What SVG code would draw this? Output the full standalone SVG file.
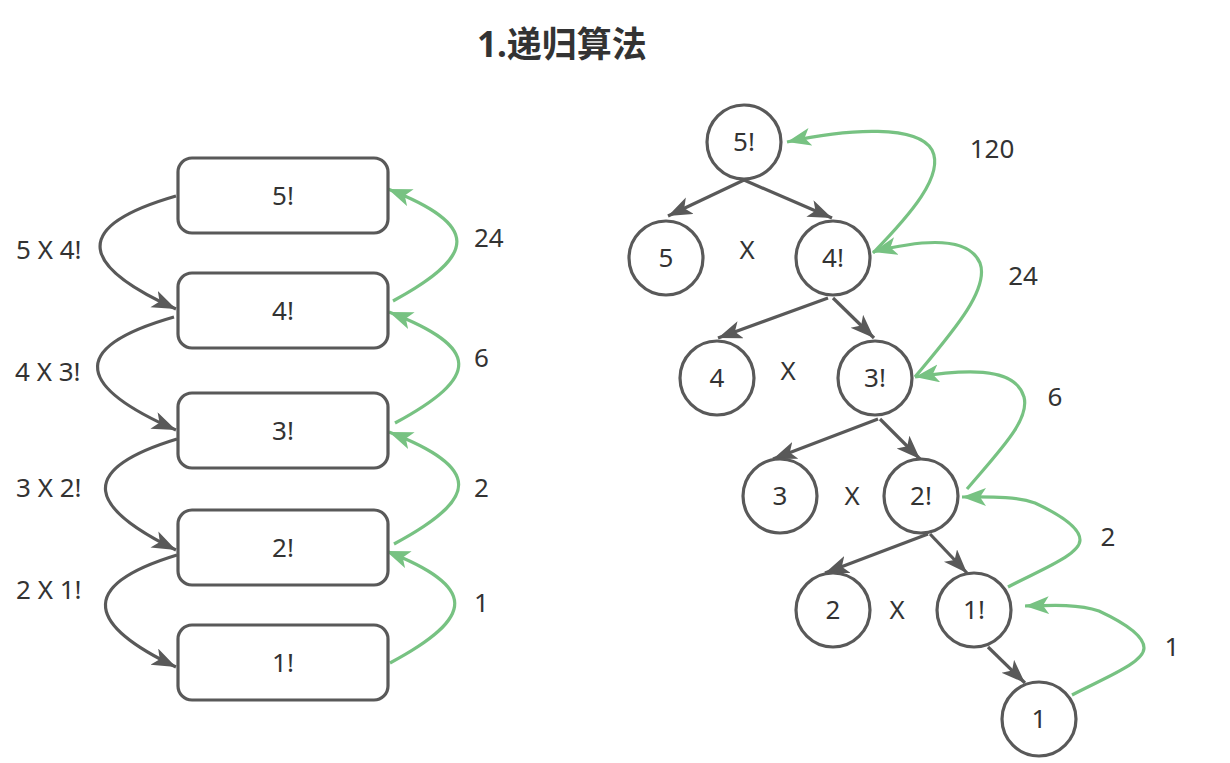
<svg xmlns="http://www.w3.org/2000/svg" width="1230" height="763" viewBox="0 0 1230 763">
<style>
.box{fill:#fff;stroke:#595959;stroke-width:3.2}
.circ{fill:#fff;stroke:#595959;stroke-width:3.2}
.t{font-family:"Noto Sans","Open Sans","Liberation Sans",sans-serif;font-size:26px;fill:#333}
.c{text-anchor:middle}
.title{font-family:"Noto Sans","Noto Sans CJK SC",sans-serif;font-size:35px;font-weight:bold;fill:#333}
.g{fill:none;stroke:#595959;stroke-width:3.2;marker-end:url(#ag)}
.gr{fill:none;stroke:#77c282;stroke-width:3.2;marker-end:url(#agr)}
</style>
<defs>
<marker id="ag" markerUnits="userSpaceOnUse" markerWidth="26" markerHeight="20" refX="24" refY="9" orient="auto" viewBox="0 0 26 20">
<path d="M0,0 L24,9 L0,18 L6,9 Z" fill="#595959"/>
</marker>
<marker id="agr" markerUnits="userSpaceOnUse" markerWidth="26" markerHeight="20" refX="24" refY="9" orient="auto" viewBox="0 0 26 20">
<path d="M0,0 L24,9 L0,18 L6,9 Z" fill="#77c282"/>
</marker>
</defs>
<rect width="1230" height="763" fill="#fff"/>
<text class="title" x="477" y="57">1.递归算法</text>

<g id="connectors">
<path class="g" d="M176,196 C65,228 85,268 176,309"/>
<path class="g" d="M174,317 C62,349 82,389 176,430"/>
<path class="g" d="M177,439 C72,471 92,509 176,550"/>
<path class="g" d="M177,555 C72,587 92,627 176,667"/>
<path class="gr" d="M393,301 C478,255 480,225 388,189"/>
<path class="gr" d="M395,423 C480,377 482,348 389,312"/>
<path class="gr" d="M394,544 C480,498 482,468 389,432"/>
<path class="gr" d="M390,663 C476,617 478,587 386,551"/>

<path class="g" d="M744,180 L668,216"/>
<path class="g" d="M744,180 L832,218"/>
<path class="g" d="M828,298 L718,338"/>
<path class="g" d="M833,298 L874,338"/>
<path class="g" d="M878,419 L773,459"/>
<path class="g" d="M880,419 L920,459"/>
<path class="g" d="M928,534 L825,573"/>
<path class="g" d="M930,534 L967,573"/>
<path class="g" d="M988,647 L1025,683"/>

<path class="gr" d="M873,253 C910,215 945,175 932,150 C918,125 850,128 787,142"/>
<path class="gr" d="M915,377 C950,335 990,290 980,263 C968,235 920,240 873,252"/>
<path class="gr" d="M967,489 C1000,450 1030,420 1024,397 C1015,365 960,370 915,377"/>
<path class="gr" d="M1008,587 C1040,570 1080,555 1080,540 C1080,525 1050,510 1035,503 C1015,496 990,497 962,497"/>
<path class="gr" d="M1072,695 C1104,678 1144,663 1144,648 C1144,633 1114,618 1099,611 C1079,604 1054,605 1025,606"/>
</g>

<g id="box5"><rect class="box" x="178" y="158" width="210" height="75" rx="14"/><text class="t c" x="283" y="205">5!</text></g>
<g id="box4"><rect class="box" x="178" y="273" width="210" height="75" rx="14"/><text class="t c" x="283" y="320">4!</text></g>
<g id="box3"><rect class="box" x="178" y="393" width="210" height="75" rx="14"/><text class="t c" x="283" y="440">3!</text></g>
<g id="box2"><rect class="box" x="178" y="510" width="210" height="75" rx="14"/><text class="t c" x="283" y="557">2!</text></g>
<g id="box1"><rect class="box" x="178" y="625" width="210" height="75" rx="14"/><text class="t c" x="283" y="672">1!</text></g>

<g id="left-labels">
<text class="t" x="16" y="259">5 X 4!</text>
<text class="t" x="15" y="381">4 X 3!</text>
<text class="t" x="16" y="497">3 X 2!</text>
<text class="t" x="16" y="599">2 X 1!</text>
<text class="t" x="474" y="247">24</text>
<text class="t" x="474" y="367">6</text>
<text class="t" x="474" y="497">2</text>
<text class="t" x="474" y="612">1</text>
</g>

<g id="n5f"><circle class="circ" cx="744" cy="142" r="37"/><text class="t c" x="744" y="151">5!</text></g>
<g id="n5"><circle class="circ" cx="666" cy="258" r="37"/><text class="t c" x="666" y="267">5</text></g>
<g id="n4f"><circle class="circ" cx="833" cy="258" r="37"/><text class="t c" x="833" y="267">4!</text></g>
<g id="n4"><circle class="circ" cx="717" cy="378" r="37"/><text class="t c" x="717" y="387">4</text></g>
<g id="n3f"><circle class="circ" cx="875" cy="378" r="37"/><text class="t c" x="875" y="387">3!</text></g>
<g id="n3"><circle class="circ" cx="780" cy="496" r="37"/><text class="t c" x="780" y="505">3</text></g>
<g id="n2f"><circle class="circ" cx="921" cy="496" r="37"/><text class="t c" x="921" y="505">2!</text></g>
<g id="n2"><circle class="circ" cx="833" cy="610" r="37"/><text class="t c" x="833" y="619">2</text></g>
<g id="n1f"><circle class="circ" cx="974" cy="610" r="37"/><text class="t c" x="974" y="619">1!</text></g>
<g id="n1"><circle class="circ" cx="1039" cy="719" r="37"/><text class="t c" x="1039" y="728">1</text></g>

<g id="tree-labels">
<text class="t c" x="747" y="259">X</text>
<text class="t c" x="788" y="380">X</text>
<text class="t c" x="852" y="505">X</text>
<text class="t c" x="897" y="619">X</text>
<text class="t c" x="992" y="158">120</text>
<text class="t c" x="1023" y="285">24</text>
<text class="t c" x="1055" y="406">6</text>
<text class="t c" x="1108" y="546">2</text>
<text class="t c" x="1172" y="656">1</text>
</g>
</svg>
